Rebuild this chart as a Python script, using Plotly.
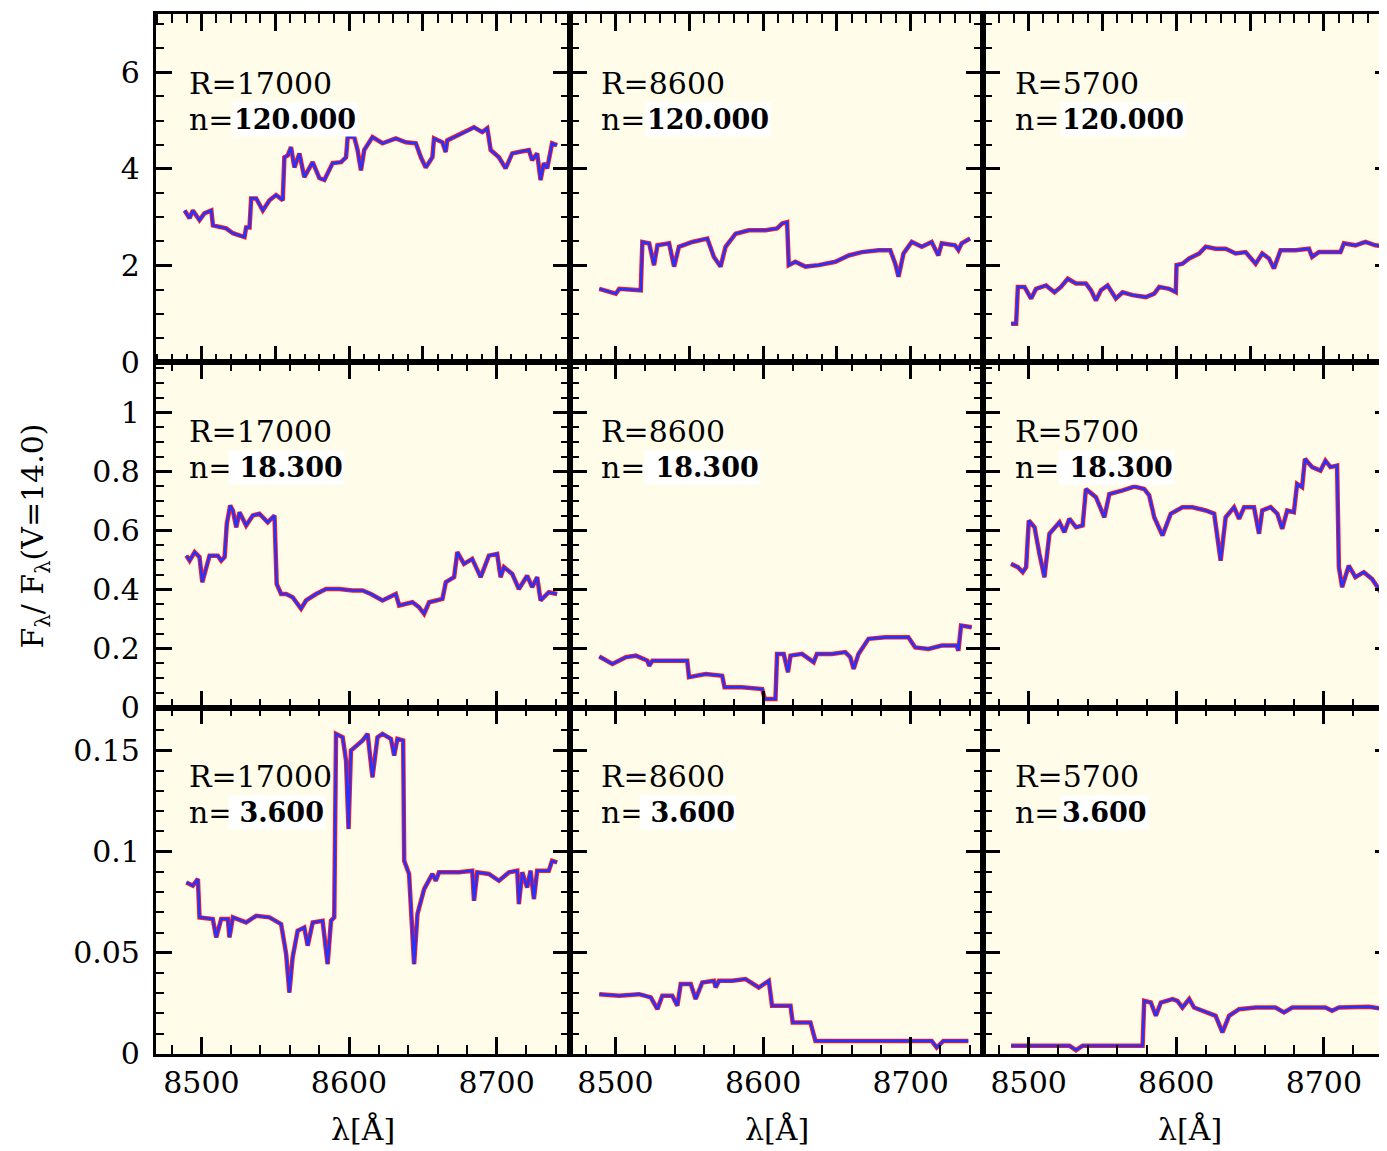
import plotly.graph_objects as go

# ---------------- data ----------------
# Row 1 : n = 120.000
wl_r1c1 = [8488.6, 8492.0, 8494.2, 8498.7, 8502.0, 8506.7, 8507.8, 8516.8, 8521.3, 8529.2, 8530.3, 8532.6, 8533.7, 8537.1,
           8541.6, 8546.1, 8550.6, 8555.1, 8556.2, 8558.5, 8560.7, 8563.0, 8566.4, 8569.7, 8575.4, 8579.9, 8583.3, 8588.9,
           8594.6, 8598.0, 8599.1, 8603.5, 8605.8, 8608.1, 8610.3, 8615.9, 8622.7, 8631.7, 8638.5, 8645.3, 8648.7, 8652.0,
           8656.5, 8657.6, 8663.3, 8665.5, 8666.6, 8674.5, 8681.3, 8684.7, 8690.3, 8693.7, 8696.0, 8701.6, 8706.1, 8710.6,
           8715.1, 8721.9, 8724.1, 8727.5, 8729.8, 8732.0, 8734.3, 8737.6, 8741.0]
fx_r1c1 = [3.14, 2.98, 3.14, 2.94, 3.08, 3.14, 2.83, 2.77, 2.67, 2.59, 2.79, 2.79, 3.39, 3.39,
           3.14, 3.35, 3.46, 3.35, 4.24, 4.28, 4.45, 4.03, 4.32, 3.83, 4.14, 3.81, 3.77, 4.12,
           4.14, 4.24, 4.66, 4.66, 4.39, 3.97, 4.39, 4.66, 4.53, 4.63, 4.55, 4.53, 4.24, 4.03,
           4.24, 4.63, 4.55, 4.35, 4.59, 4.70, 4.80, 4.86, 4.76, 4.84, 4.39, 4.24, 4.01, 4.32,
           4.35, 4.39, 4.18, 4.32, 3.77, 4.12, 4.01, 4.53, 4.49]

wl_r1c2 = [8489.0, 8500.2, 8502.5, 8517.1, 8518.2, 8522.8, 8526.1, 8528.4, 8536.3, 8539.7, 8543.0, 8552.0, 8562.2, 8566.7,
           8571.2, 8574.6, 8581.4, 8590.4, 8601.7, 8609.5, 8612.9, 8616.3, 8617.4, 8621.9, 8628.7, 8637.7, 8649.0, 8658.0,
           8667.0, 8678.3, 8686.2, 8689.6, 8691.8, 8695.2, 8700.8, 8707.6, 8714.3, 8718.8, 8721.1, 8730.1, 8732.4, 8734.6,
           8740.3]
fx_r1c2 = [1.52, 1.42, 1.52, 1.49, 2.49, 2.46, 2.01, 2.42, 2.46, 1.98, 2.39, 2.49, 2.56, 2.18,
           1.98, 2.39, 2.66, 2.73, 2.73, 2.77, 2.87, 2.90, 2.01, 2.08, 1.98, 2.01, 2.08, 2.21,
           2.28, 2.32, 2.32, 2.04, 1.77, 2.25, 2.49, 2.39, 2.49, 2.21, 2.46, 2.42, 2.32, 2.46,
           2.56]

wl_r1c3 = [8488.1, 8491.5, 8492.7, 8497.2, 8501.7, 8505.0, 8511.8, 8517.5, 8521.9, 8526.5, 8532.1, 8538.8, 8542.2, 8545.6,
           8549.0, 8553.5, 8559.1, 8563.7, 8570.4, 8579.4, 8585.1, 8588.5, 8595.2, 8599.7, 8600.2, 8604.2, 8608.8, 8615.5,
           8620.0, 8626.7, 8633.5, 8640.3, 8647.0, 8653.8, 8658.3, 8662.8, 8666.2, 8670.7, 8680.8, 8689.9, 8692.1, 8696.7,
           8704.5, 8711.3, 8713.6, 8721.4, 8728.2, 8734.9, 8740.8]
fx_r1c3 = [0.80, 0.80, 1.56, 1.56, 1.32, 1.52, 1.59, 1.45, 1.56, 1.73, 1.63, 1.63, 1.49, 1.28,
           1.49, 1.59, 1.32, 1.45, 1.39, 1.35, 1.42, 1.56, 1.52, 1.45, 2.01, 2.04, 2.15, 2.25,
           2.39, 2.35, 2.35, 2.25, 2.28, 2.04, 2.25, 2.15, 1.94, 2.32, 2.32, 2.35, 2.18, 2.28,
           2.28, 2.28, 2.46, 2.42, 2.49, 2.42, 2.40]

# Row 2 : n = 18.300
wl_r2c1 = [8489.8, 8492.0, 8495.4, 8498.7, 8500.6, 8503.3, 8505.5, 8511.1, 8513.4, 8515.7, 8517.2, 8519.5, 8521.3, 8523.6,
           8525.8, 8530.3, 8534.8, 8539.3, 8544.9, 8549.5, 8551.0, 8554.0, 8557.4, 8561.8, 8567.5, 8570.9, 8577.7, 8584.4,
           8593.4, 8602.4, 8609.2, 8614.8, 8622.7, 8631.7, 8634.0, 8643.0, 8647.5, 8650.9, 8654.3, 8663.3, 8665.6, 8671.2,
           8673.4, 8677.9, 8683.5, 8689.2, 8694.8, 8700.4, 8702.7, 8705.0, 8710.6, 8715.1, 8720.7, 8724.1, 8727.5, 8729.8,
           8735.4, 8741.0]
fx_r2c1 = [0.515, 0.498, 0.527, 0.510, 0.425, 0.476, 0.515, 0.515, 0.498, 0.510, 0.623, 0.685, 0.668, 0.611,
           0.662, 0.617, 0.651, 0.657, 0.628, 0.651, 0.419, 0.385, 0.385, 0.374, 0.335, 0.363, 0.385, 0.402,
           0.402, 0.397, 0.397, 0.385, 0.363, 0.385, 0.346, 0.357, 0.340, 0.318, 0.357, 0.368, 0.425, 0.442,
           0.527, 0.487, 0.504, 0.442, 0.515, 0.521, 0.442, 0.476, 0.453, 0.402, 0.447, 0.408, 0.442, 0.363,
           0.391, 0.385]

wl_r2c2 = [8489.0, 8497.9, 8507.0, 8513.8, 8521.6, 8522.8, 8525.0, 8536.3, 8548.6, 8549.8, 8561.1, 8572.3, 8573.9, 8585.8,
           8599.4, 8601.2, 8608.4, 8609.5, 8614.0, 8616.9, 8618.6, 8626.4, 8634.3, 8636.5, 8646.7, 8655.7, 8659.1, 8661.4,
           8664.7, 8671.5, 8682.8, 8698.5, 8703.1, 8712.1, 8721.1, 8731.2, 8732.4, 8734.2, 8741.4]
fx_r2c2 = [0.173, 0.148, 0.171, 0.176, 0.159, 0.142, 0.159, 0.159, 0.159, 0.103, 0.114, 0.108, 0.069, 0.069,
           0.063, 0.029, 0.029, 0.182, 0.182, 0.120, 0.176, 0.182, 0.154, 0.182, 0.182, 0.188, 0.171, 0.131,
           0.182, 0.233, 0.238, 0.238, 0.204, 0.199, 0.210, 0.210, 0.193, 0.278, 0.272]

wl_r2c3 = [8488.1, 8492.7, 8496.0, 8498.3, 8500.1, 8504.0, 8507.3, 8510.7, 8514.1, 8520.9, 8524.2, 8527.6, 8532.1, 8536.6,
           8538.8, 8545.6, 8551.3, 8554.7, 8563.7, 8571.6, 8578.3, 8581.7, 8585.1, 8590.7, 8596.3, 8604.2, 8611.0, 8620.0,
           8625.7, 8630.1, 8633.5, 8639.2, 8642.6, 8646.0, 8652.7, 8656.1, 8658.3, 8664.0, 8668.5, 8671.8, 8675.2, 8679.7,
           8681.9, 8685.3, 8687.2, 8692.1, 8697.7, 8701.1, 8704.5, 8709.0, 8710.2, 8712.4, 8716.9, 8721.4, 8727.1, 8732.7,
           8739.5]
fx_r2c3 = [0.487, 0.476, 0.459, 0.476, 0.634, 0.611, 0.521, 0.442, 0.589, 0.628, 0.594, 0.640, 0.611, 0.617,
           0.741, 0.713, 0.645, 0.724, 0.736, 0.749, 0.741, 0.719, 0.645, 0.583, 0.657, 0.679, 0.679, 0.668,
           0.657, 0.498, 0.645, 0.679, 0.640, 0.679, 0.679, 0.589, 0.668, 0.679, 0.657, 0.606, 0.668, 0.662,
           0.758, 0.747, 0.843, 0.815, 0.803, 0.837, 0.815, 0.820, 0.476, 0.408, 0.481, 0.442, 0.459, 0.436,
           0.385]

# Row 3 : n = 3.600
wl_r3c1 = [8489.8, 8494.2, 8497.6, 8498.7, 8507.7, 8510.0, 8513.4, 8517.9, 8519.0, 8521.3, 8530.3, 8537.1, 8546.1, 8554.0,
           8557.4, 8559.6, 8561.8, 8565.2, 8569.7, 8572.0, 8575.4, 8582.1, 8585.5, 8587.8, 8590.0, 8591.2, 8595.7, 8598.0,
           8599.7, 8601.3, 8609.2, 8612.6, 8615.9, 8619.3, 8622.7, 8628.4, 8630.6, 8632.8, 8636.7, 8637.4, 8640.7, 8644.1,
           8646.4, 8650.9, 8656.5, 8658.8, 8661.0, 8674.5, 8683.5, 8684.7, 8686.9, 8694.8, 8701.6, 8708.4, 8714.0, 8715.1,
           8717.4, 8720.7, 8723.0, 8725.3, 8727.5, 8735.4, 8737.6, 8741.0]
fx_r3c1 = [0.0848, 0.0832, 0.0865, 0.0675, 0.0667, 0.0576, 0.0667, 0.0667, 0.0576, 0.0675, 0.0650, 0.0683, 0.0675, 0.0642,
           0.0494, 0.0303, 0.0477, 0.0609, 0.0625, 0.0535, 0.0650, 0.0658, 0.0444, 0.0658, 0.0675, 0.1583, 0.1566, 0.1450,
           0.1112, 0.1500, 0.1550, 0.1583, 0.1368, 0.1566, 0.1583, 0.1558, 0.1475, 0.1558, 0.1550, 0.0955, 0.0890, 0.0444,
           0.0692, 0.0815, 0.0890, 0.0856, 0.0898, 0.0898, 0.0906, 0.0757, 0.0898, 0.0890, 0.0856, 0.0898, 0.0906, 0.0741,
           0.0898, 0.0823, 0.0906, 0.0766, 0.0906, 0.0906, 0.0955, 0.0947]

wl_r3c2 = [8489.0, 8502.5, 8516.0, 8523.9, 8528.4, 8531.7, 8538.5, 8541.9, 8544.2, 8551.0, 8554.3, 8558.8, 8566.7, 8567.9,
           8570.1, 8579.1, 8588.1, 8597.1, 8603.9, 8606.1, 8618.6, 8620.1, 8632.1, 8635.5, 8653.4, 8676.0, 8698.5, 8714.3,
           8717.7, 8722.2, 8739.1]
fx_r3c2 = [0.0295, 0.0287, 0.0295, 0.0279, 0.0221, 0.0287, 0.0287, 0.0238, 0.0345, 0.0345, 0.0271, 0.0353, 0.0361, 0.0328,
           0.0361, 0.0361, 0.0370, 0.0328, 0.0361, 0.0238, 0.0238, 0.0155, 0.0155, 0.0064, 0.0064, 0.0064, 0.0064, 0.0064,
           0.0031, 0.0064, 0.0064]

wl_r3c3 = [8488.1, 8507.3, 8527.6, 8532.1, 8536.6, 8556.9, 8577.2, 8578.3, 8582.8, 8586.2, 8589.6, 8597.5, 8600.8, 8604.2,
           8608.8, 8612.1, 8617.7, 8626.7, 8631.3, 8635.8, 8642.6, 8653.8, 8667.3, 8673.0, 8678.6, 8701.1, 8705.6, 8710.2,
           8730.5, 8740.8]
fx_r3c3 = [0.0040, 0.0040, 0.0040, 0.0018, 0.0040, 0.0040, 0.0040, 0.0262, 0.0254, 0.0188, 0.0254, 0.0271, 0.0262, 0.0229,
           0.0271, 0.0229, 0.0213, 0.0188, 0.0106, 0.0188, 0.0221, 0.0229, 0.0229, 0.0205, 0.0229, 0.0229, 0.0213, 0.0229,
           0.0233, 0.0221]

resolution_labels = ["R=17000", "R=8600", "R=5700"]
density_labels = [["120.000", "120.000", "120.000"],
                  [" 18.300", " 18.300", " 18.300"],
                  [" 3.600", " 3.600", "3.600"]]
x_title = "λ[Å]"
y_title = "F<sub>λ</sub>/ F<sub>λ</sub>(V=14.0)"

panels = [[(wl_r1c1, fx_r1c1), (wl_r1c2, fx_r1c2), (wl_r1c3, fx_r1c3)],
          [(wl_r2c1, fx_r2c1), (wl_r2c2, fx_r2c2), (wl_r2c3, fx_r2c3)],
          [(wl_r3c1, fx_r3c1), (wl_r3c2, fx_r3c2), (wl_r3c3, fx_r3c3)]]

# ---------------- layout geometry / style ----------------
BODY = 8                     # default page margin around the figure
CAP_H = 1170                 # height of the page area that ends up in the 1151 px picture
SY = CAP_H / 1151.0
W, H = 1387, CAP_H - 2 * BODY
FONT = "DejaVu Serif"
BG = "#fffdea"
RED = "#ff1a1a"
BLUE = "#2433ff"


def fx(p):
    return (p - BODY) / W


def fy(p):
    return 1 - (p * SY - BODY) / H


col_px = [(156, 571), (571, 985), (985, W + BODY)]
row_px = [(14, 362), (362, 707), (707, 1053)]
x_ranges = [[8469, 8749.6], [8469, 8749.0], [8469, 8746.2]]
y_ranges = [[0, 7.2], [0, 1.17], [0, 0.1713]]
y_dtick = [2, 0.2, 0.05]
y_minor = [0.5, 0.05, 0.01]
x_dtick = [50, 100, 100]
x_minor = [10, 20, 20]

text_x = [187, 600, 1015]
box_x = [[232, 646, 1062], [228, 645, 1060], [228, 640, 1062]]

fig = go.Figure()
layout = dict(
    width=W, height=H,
    margin=dict(l=0, r=0, t=0, b=0),
    paper_bgcolor="white",
    showlegend=False,
    font=dict(family=FONT, color="black", size=30),
)
annotations = []
shapes = []

for r in range(3):
    for c in range(3):
        k = r * 3 + c + 1
        xa = "x" if k == 1 else f"x{k}"
        ya = "y" if k == 1 else f"y{k}"
        wl, fl = panels[r][c]
        fig.add_trace(go.Scatter(x=wl, y=fl, mode="lines", xaxis=xa, yaxis=ya,
                                 line=dict(color=RED, width=4.5), hoverinfo="skip"))
        fig.add_trace(go.Scatter(x=wl, y=fl, mode="lines", xaxis=xa, yaxis=ya,
                                 line=dict(color=BLUE, width=2.6), hoverinfo="skip"))

        layout[f"xaxis{'' if k == 1 else k}"] = dict(
            domain=[fx(col_px[c][0]), min(1.0, fx(col_px[c][1]))],
            range=x_ranges[c], anchor=ya,
            showgrid=False, zeroline=False,
            showline=True, linecolor="black", linewidth=2.5, mirror="ticks",
            ticks="inside", ticklen=17, tickwidth=2.5, tickcolor="black",
            tick0=8500, dtick=x_dtick[r],
            minor=dict(ticks="inside", ticklen=9, tickwidth=2, tickcolor="black",
                       dtick=x_minor[r], tick0=8500, showgrid=False),
            showticklabels=(r == 2),
            tickfont=dict(family=FONT, size=30, color="black"),
            ticklabelstandoff=0,
        )
        layout[f"yaxis{'' if k == 1 else k}"] = dict(
            domain=[fy(row_px[r][1]), fy(row_px[r][0])],
            range=y_ranges[r], anchor=xa,
            showgrid=False, zeroline=False,
            showline=True, linecolor="black", linewidth=2.5, mirror="ticks",
            ticks="inside", ticklen=17, tickwidth=2.5, tickcolor="black",
            tick0=0, dtick=y_dtick[r],
            minor=dict(ticks="inside", ticklen=9, tickwidth=2, tickcolor="black",
                       dtick=y_minor[r], tick0=0, showgrid=False),
            showticklabels=(c == 0),
            tickfont=dict(family=FONT, size=30, color="black"),
            ticklabelstandoff=7,
        )
        shapes.append(dict(
            type="rect", xref=f"{xa} domain", yref=f"{ya} domain", x0=0, x1=1, y0=0, y1=1,
            fillcolor=BG, line=dict(width=0), layer="below"))

        top = row_px[r][0]
        annotations.append(dict(
            text=resolution_labels[c], x=fx(text_x[c]), y=fy(top + 69), xref="paper", yref="paper",
            xanchor="left", yanchor="middle", showarrow=False,
            font=dict(family=FONT, size=30, color="black")))
        annotations.append(dict(
            text="n=", x=fx(text_x[c]), y=fy(top + 105), xref="paper", yref="paper",
            xanchor="left", yanchor="middle", showarrow=False,
            font=dict(family=FONT, size=30, color="black")))
        annotations.append(dict(
            text="<b>" + density_labels[r][c] + "</b>", x=fx(box_x[r][c]), y=fy(top + 105),
            xref="paper", yref="paper", xanchor="left", yanchor="middle", showarrow=False,
            bgcolor="white", borderpad=1,
            font=dict(family=FONT, size=27, color="black")))

for c in range(3):
    cx = col_px[c][0] + (col_px[0][1] - col_px[0][0]) / 2
    annotations.append(dict(
        text=x_title, x=fx(cx), y=fy(1129),
        xref="paper", yref="paper", xanchor="center", yanchor="middle", showarrow=False,
        font=dict(family=FONT, size=30, color="black")))

annotations.append(dict(
    text=y_title, x=fx(35), y=fy(535), xref="paper", yref="paper",
    xanchor="center", yanchor="middle", textangle=-90, showarrow=False,
    font=dict(family=FONT, size=30, color="black")))

layout["annotations"] = annotations
layout["shapes"] = shapes
layout["plot_bgcolor"] = BG
fig.update_layout(**layout)
fig.write_html("out.html")
